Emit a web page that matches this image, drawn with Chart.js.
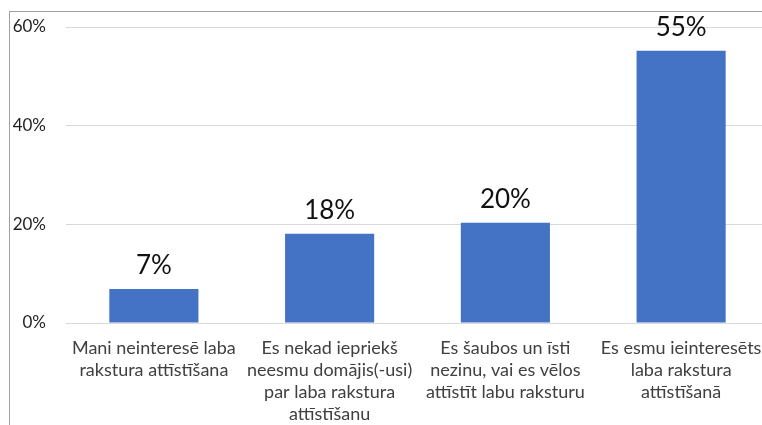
<!DOCTYPE html>
<html><head><meta charset="utf-8">
<script src="https://cdn.jsdelivr.net/npm/chart.js@4/dist/chart.umd.min.js"></script>
<style>
html,body{margin:0;padding:0;background:#fff;overflow:hidden;width:762px;height:425px;}
#wrap{position:absolute;left:0;top:0;width:780px;height:425px;}
#frame{position:absolute;left:9px;top:11px;width:800px;height:430px;border-left:1px solid #a0a0a0;border-top:1px solid #a0a0a0;pointer-events:none;}
</style></head><body>
<div id="wrap"><canvas id="c" width="780" height="425"></canvas></div>
<div id="frame"></div>
<script>
const categories = [
  ["Mani neinteresē laba", "rakstura attīstīšana"],
  ["Es nekad iepriekš", "neesmu domājis(-usi)", "par laba rakstura", "attīstīšanu"],
  ["Es šaubos un īsti", "nezinu, vai es vēlos", "attīstīt labu raksturu"],
  ["Es esmu ieinteresēts", "laba rakstura", "attīstīšanā"]
];
const values = [6.9, 18.1, 20.3, 55.2];
const tickValues = [0, 20, 40, 60];

const labelPlugin = {
  id: 'valueLabels',
  afterDatasetsDraw(chart) {
    const ctx = chart.ctx;
    const meta = chart.getDatasetMeta(0);
    ctx.save();
    ctx.font = '26px Lato';
    ctx.fillStyle = '#111';
    ctx.textAlign = 'center';
    ctx.textBaseline = 'alphabetic';
    meta.data.forEach((bar, i) => {
      ctx.fillText(Math.round(values[i]) + '%', bar.x, bar.y - 15);
    });
    ctx.restore();
  }
};

new Chart(document.getElementById('c'), {
  type: 'bar',
  data: {
    labels: categories,
    datasets: [{
      data: values,
      backgroundColor: '#4472C4',
      borderWidth: 0,
      categoryPercentage: 1,
      barPercentage: 0.507
    }]
  },
  options: {
    responsive: false,
    animation: false,
    devicePixelRatio: 1,
    layout: { padding: { top: 27, right: 11, left: 0, bottom: 0 } },
    plugins: { legend: { display: false }, tooltip: { enabled: false } },
    scales: {
      x: {
        grid: { display: false, drawTicks: false },
        border: { display: true, color: '#d9d9d9', width: 1 },
        ticks: {
          color: '#404040', font: { family: 'Lato', size: 18, lineHeight: 1.22 },
          maxRotation: 0, minRotation: 0, autoSkip: false, padding: 14
        },
        afterFit(s) { s.height = 102; }
      },
      y: {
        min: 0, max: 60,
        afterBuildTicks(s) { s.ticks = tickValues.map(v => ({ value: v })); },
        grid: { color: '#d9d9d9', lineWidth: 1, drawTicks: false },
        border: { display: false },
        ticks: {
          color: '#1f1f1f', font: { family: 'Lato', size: 17 }, padding: 20,
          callback: v => v + '%'
        },
        afterFit(s) { s.width = 66; s.paddingTop = 0; s.paddingBottom = 0; }
      }
    }
  },
  plugins: [labelPlugin]
});
</script>
</body></html>
